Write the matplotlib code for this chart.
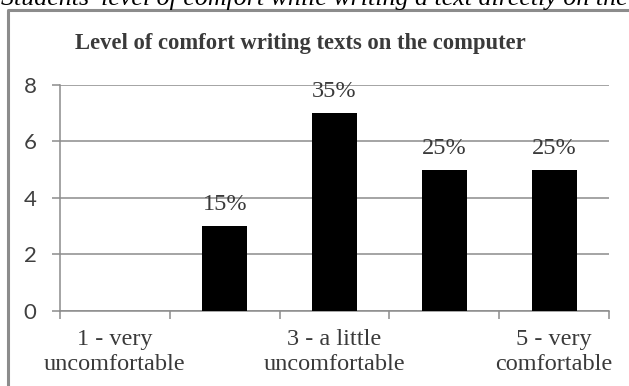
import matplotlib.pyplot as plt
from matplotlib.lines import Line2D

categories = ["1 - very\nuncomfortable", "2", "3 - a little\nuncomfortable", "4", "5 - very\ncomfortable"]
counts = [0, 3, 7, 5, 5]
percent_labels = ["", "15%", "35%", "25%", "25%"]
shown_labels = {0: categories[0], 2: categories[2], 4: categories[4]}
yticks = [0, 2, 4, 6, 8]

W, H = 629, 386
fig = plt.figure(figsize=(W / 100, H / 100), dpi=100)
fig.patch.set_facecolor("white")

def fx(px):
    return px / W

def fy(py):
    return 1 - py / H

# Caption line above the chart, clipped by the top edge
fig.text(fx(1), fy(5), "Students' level of comfort while writing a text directly on the",
         family="Liberation Serif", style="italic", fontsize=18.6, color="black",
         ha="left", va="baseline")

# Chart frame (left and top edges visible)
frame_col = "#8c8c8c"
fig.add_artist(Line2D([fx(8), fx(8), fx(629)], [fy(390), fy(10), fy(10)],
                      transform=fig.transFigure, color=frame_col, lw=2.2))

fig.text(fx(300), fy(44), "Level of comfort writing texts on the computer",
         family="Liberation Serif", weight="bold", fontsize=16.3, color="#3a3a3a",
         ha="center", va="center")

ax = fig.add_axes([fx(60), fy(310.7), fx(609) - fx(60), fy(85) - fy(310.7)])
x = list(range(1, len(counts) + 1))
bars = ax.bar(x, counts, width=0.41, color="black", zorder=3)

for xi, c, lab in zip(x, counts, percent_labels):
    if lab:
        ax.annotate(lab, (xi, c), xytext=(0, 8), textcoords="offset points",
                    ha="center", va="bottom", family="Liberation Serif",
                    fontsize=17.5, color="#3a3a3a", zorder=4)

ax.set_xlim(0.5, len(counts) + 0.5)
ax.set_ylim(0, 8)
ax.set_yticks(yticks)
ax.set_yticklabels([str(t) for t in yticks], family="Lato", fontsize=16, color="#404040")
ax.yaxis.grid(True, color="#8c8c8c", lw=1.1, zorder=0)
ax.tick_params(axis="y", length=6, color="#8c8c8c", width=1.1, pad=11)

ax.set_xticks([i + 0.5 for i in range(0, len(counts) + 1)])
ax.set_xticklabels([])
ax.tick_params(axis="x", which="major", length=6, color="#8c8c8c", width=1.1)
ax.set_xticks([i + 1 for i in shown_labels], minor=True)
ax.set_xticklabels(list(shown_labels.values()), minor=True, family="Liberation Serif",
                   fontsize=17.5, color="#3a3a3a", linespacing=1.25)
ax.tick_params(axis="x", which="minor", length=0, pad=13)

for side in ["top", "right"]:
    ax.spines[side].set_visible(False)
for side in ["left", "bottom"]:
    ax.spines[side].set_color("#8c8c8c")
    ax.spines[side].set_linewidth(1.1)

fig.savefig("out.png", dpi=100)
